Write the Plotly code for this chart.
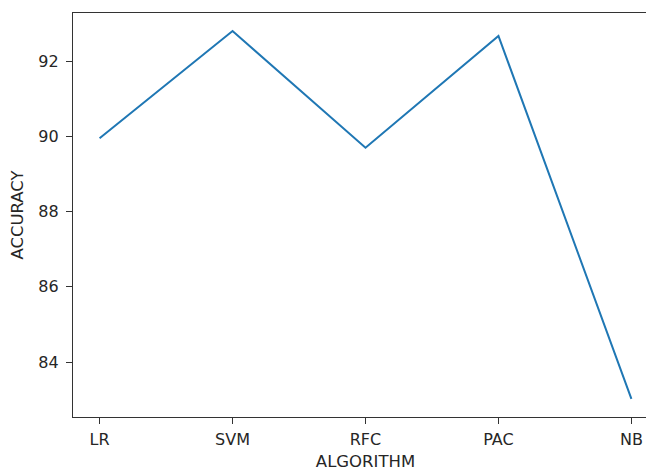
import plotly.graph_objects as go

algorithms = ["LR", "SVM", "RFC", "PAC", "NB"]
accuracy = [89.95, 92.80, 89.70, 92.67, 83.02]
y_ticks = [84, 86, 88, 90, 92]

fig = go.Figure()
fig.add_trace(go.Scatter(
    x=list(range(len(algorithms))), y=accuracy, mode="lines",
    line=dict(color="#1f77b4", width=2), showlegend=False,
))

fig.update_layout(
    width=654, height=472,
    margin=dict(l=65, r=4, t=5, b=63),
    paper_bgcolor="white", plot_bgcolor="white",
    font=dict(family="DejaVu Sans", size=16, color="#262626"),
)
fig.update_xaxes(
    range=[-0.2, 4.2],
    tickmode="array", tickvals=list(range(len(algorithms))), ticktext=algorithms,
    showgrid=False, zeroline=False,
    showline=True, linecolor="#333333", linewidth=1.3, mirror=True,
    ticks="outside", ticklen=6, tickwidth=1, tickcolor="#333333",
    ticklabelstandoff=2,
    title=dict(text="ALGORITHM", standoff=7, font=dict(size=16.5)),
)
fig.update_yaxes(
    range=[82.54, 93.28],
    tickmode="array", tickvals=y_ticks, ticktext=[str(v) for v in y_ticks],
    showgrid=False, zeroline=False,
    showline=True, linecolor="#333333", linewidth=1.3, mirror=False,
    ticks="outside", ticklen=6, tickwidth=1, tickcolor="#333333",
    ticklabelstandoff=4,
    title=dict(text="ACCURACY", standoff=10, font=dict(size=16.5)),
)

fig.write_html("out.html")
